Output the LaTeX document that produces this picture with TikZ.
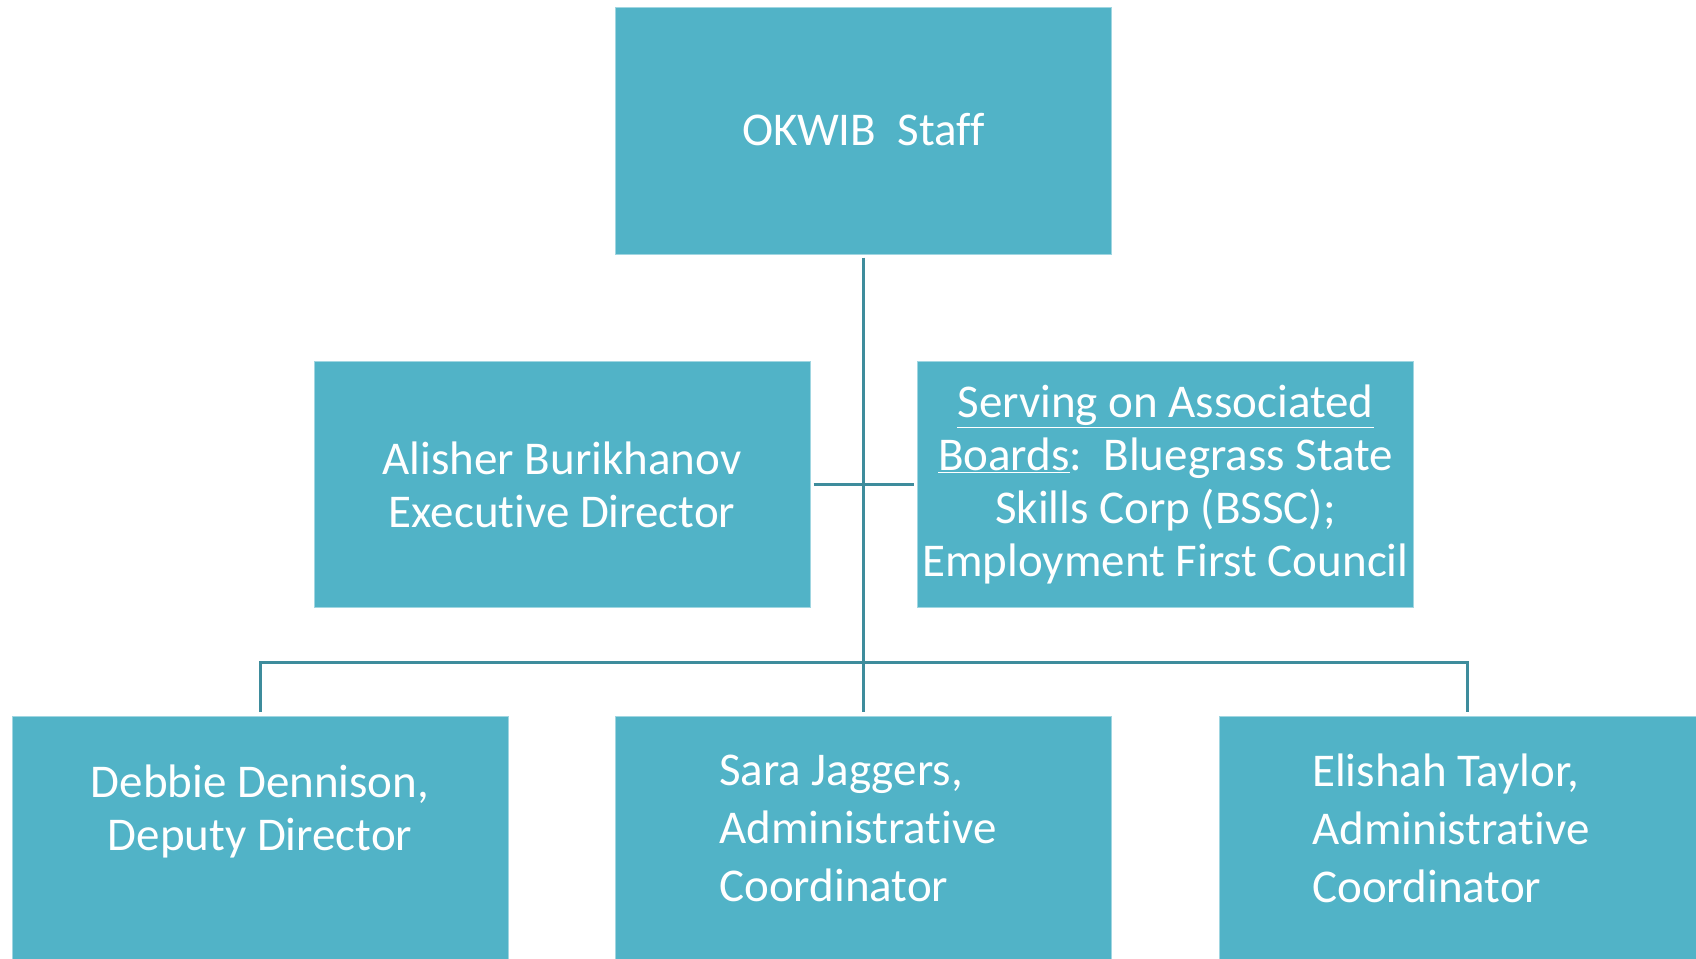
\documentclass[tikz,border=0pt]{standalone}
\usepackage{fontspec}
\setmainfont[Ligatures=NoCommon]{Carlito}
\definecolor{boxfill}{RGB}{81,179,199}
\definecolor{boxedge}{RGB}{160,214,225}
\definecolor{linecol}{RGB}{62,140,156}
\begin{document}
\begin{tikzpicture}[x=1pt,y=-1pt,
  box/.style={fill=boxfill,draw=boxedge,line width=1pt,minimum width=496pt,minimum height=246pt,inner sep=0pt,text=white,align=center,font=\fontsize{47}{53}\selectfont},
  txt/.style={text=white,inner sep=0pt,font=\fontsize{47}{53}\selectfont},
  txtwide/.style={text=white,inner sep=0pt,align=left,font=\fontsize{47}{58}\selectfont},
  conn/.style={draw=linecol,line width=3pt,shorten <=3pt,shorten >=3pt}]
\useasboundingbox (0,0) rectangle (1696,958);
\node[box] (top) at (863.5,131) {\raisebox{4pt}{OKWIB\ \ Staff}};
\node[box] (alisher) at (562,484.5) {Alisher Burikhanov\\ Executive Director};
\node[box] (serving) at (1165.5,484.5) {\underline{Serving on Associated}\\ \underline{Boards}:\ \ Bluegrass State\\ Skills Corp (BSSC);\\ Employment First Council};
\node[box] (debbie) at (260,839.5) {};
\node[box] (sara) at (863.5,839.5) {};
\node[box] (elishah) at (1467.5,839.5) {};
\node[txt,align=center] (debbietxt) at (260,811) {Debbie Dennison,\\ Deputy Director};
\node[txtwide,anchor=west] (saratxt) at (719,828) {Sara Jaggers,\\ Administrative\\ Coordinator};
\node[txtwide,anchor=west] (elishahtxt) at (1312,828) {Elishah Taylor,\\ Administrative\\ Coordinator};
\coordinate (bus) at (863.5,662);
\draw[conn,shorten >=4pt] (top.south) -- (sara.north);
\draw[conn] (alisher.east) -- (serving.west);
\draw[conn,shorten <=4pt,shorten >=4pt] (debbie.north) |- (bus) -| (elishah.north);
\end{tikzpicture}
\end{document}
